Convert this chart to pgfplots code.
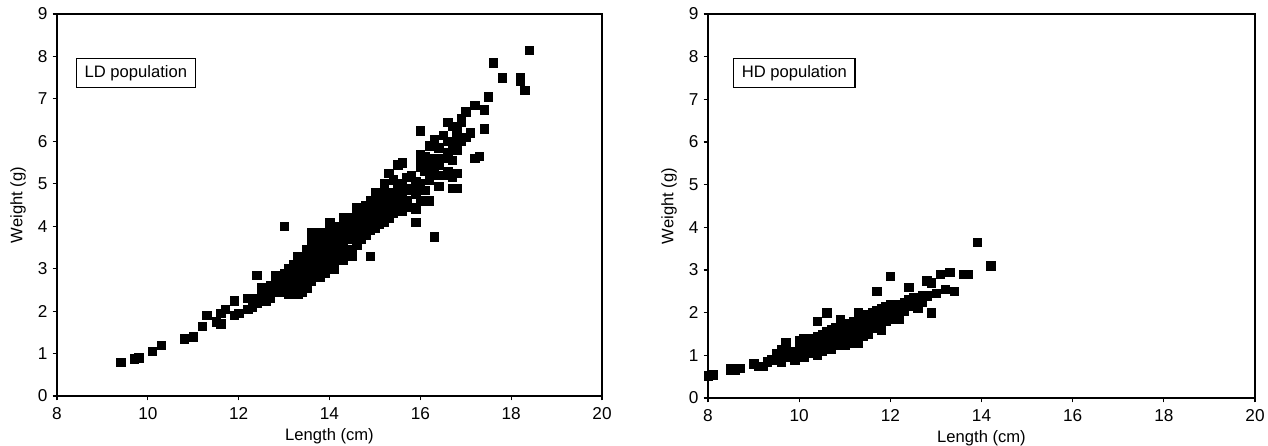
\documentclass[border=0pt]{standalone}
\usepackage{fontspec}
\setmainfont{Liberation Sans}
\usepackage{pgfplots}
\pgfplotsset{compat=1.18}

\pgfplotsset{
  panel/.style={
    scale only axis,
    xmin=8, xmax=20, ymin=0, ymax=9,
    xtick={8,10,...,20}, ytick={0,1,...,9},
    xtick pos=bottom, ytick pos=left,
    tick align=outside,
    major tick length=2.2pt,
    axis line style={line width=0.75pt},
    every tick/.style={black, line width=0.6pt},
    tick label style={font=\fontsize{8.6}{10}\selectfont},
    label style={font=\fontsize{8.3}{10}\selectfont},
    /pgf/number format/assume math mode=true,
    yticklabel style={xshift=1pt},
    xlabel={Length (cm)}, ylabel={Weight (g)},
    xlabel style={at={(axis description cs:0.5,0)}, anchor=north, yshift=-12.5pt},
    ylabel style={at={(axis description cs:0,0.5)}, anchor=south, yshift=12pt},
    clip=false,
  },
  pts/.style={only marks, mark=square*, mark size=2.1pt, black, mark options={line width=0.2pt}},
}
\tikzset{
  tag/.style={draw, line width=0.6pt, anchor=north west, font=\fontsize{8.3}{10}\selectfont,
              minimum height=14pt, inner xsep=4pt},
}

\begin{document}
\begin{tikzpicture}
\path[use as bounding box] (-28.5pt,-24.5pt) rectangle (605.5pt,198pt);

\begin{axis}[panel, width=272.5pt, height=191pt, at={(0,0)}]
\addplot[pts] coordinates {
(9.4,0.8) (9.7,0.88) (9.8,0.9) (10.1,1.05) (10.3,1.2) (10.8,1.35) (11.0,1.4)
(11.2,1.65) (11.3,1.9) (11.5,1.75) (11.6,1.7) (11.6,1.95) (11.7,2.05) (11.9,1.9)
(11.9,2.25) (12.0,1.95) (12.2,2.05) (12.2,2.3) (12.4,2.85) (12.4,2.3) (12.5,2.5)
(12.6,2.4) (12.7,2.3) (12.8,2.85) (13.0,4.0) (13.0,2.6) (13.1,2.4) (13.3,2.4)
(13.5,2.55) (13.6,3.85) (13.8,2.8) (14.9,3.3) (15.9,4.1) (16.3,3.75) (16.0,6.25)
(16.3,6.05) (16.6,6.45) (16.7,4.9) (16.8,4.9) (16.8,5.25) (17.2,5.6) (17.3,5.65)
(17.4,6.3) (17.4,6.75) (17.5,7.05) (17.6,7.85) (17.8,7.5) (18.2,7.5) (18.2,7.42)
(18.3,7.2) (18.4,8.15) (17.0,6.7) (17.2,6.85) (16.9,6.55) (17.0,6.1) (17.1,6.2)
(16.8,6.3) (16.9,6.0) (16.8,5.8)
(12.3,2.1) (12.3,2.3) (12.4,2.2) (12.5,2.35) (12.5,2.55) (12.6,2.25) (12.6,2.5)
(12.7,2.35) (12.7,2.6) (12.8,2.45) (12.8,2.65) (12.9,2.5) (12.9,2.75) (12.9,2.85)
(13.0,2.45) (13.0,2.7) (13.0,2.9) (13.1,2.55) (13.1,2.75) (13.1,3.0) (13.2,2.6)
(13.2,2.85) (13.2,3.1) (13.3,2.7) (13.3,2.95) (13.3,3.3) (13.4,2.6) (13.4,2.85)
(13.4,3.05) (13.4,3.25) (13.5,2.75) (13.5,3.0) (13.5,3.2) (13.5,3.45) (13.6,2.9)
(13.6,3.1) (13.6,3.3) (13.6,3.55) (13.7,2.95) (13.7,3.2) (13.7,3.4) (13.7,3.6)
(13.8,3.0) (13.8,3.25) (13.8,3.5) (13.8,3.75) (13.9,3.1) (13.9,3.35) (13.9,3.55)
(13.9,3.8) (14.0,3.05) (14.0,3.3) (14.0,3.5) (14.0,3.7) (14.0,3.9) (14.1,3.2)
(14.1,3.45) (14.1,3.65) (14.1,3.85) (14.2,3.3) (14.2,3.55) (14.2,3.75) (14.2,4.0)
(14.3,3.4) (14.3,3.6) (14.3,3.85) (14.3,4.05) (14.4,3.45) (14.4,3.7) (14.4,3.95)
(14.4,4.15) (14.5,3.45) (14.5,3.75) (14.5,4.0) (14.5,4.2) (14.6,3.55) (14.6,3.85)
(14.6,4.1) (14.6,4.3) (14.7,3.7) (14.7,3.95) (14.7,4.2) (14.7,4.4) (14.8,3.8)
(14.8,4.05) (14.8,4.3) (14.8,4.5) (14.9,3.9) (14.9,4.15) (14.9,4.4) (14.9,4.6)
(15.0,3.95) (15.0,4.2) (15.0,4.45) (15.0,4.65) (15.1,4.05) (15.1,4.3) (15.1,4.55)
(15.1,4.7) (15.2,4.1) (15.2,4.35) (15.2,4.6) (15.2,4.8) (15.3,4.2) (15.3,4.45)
(15.3,4.7) (15.3,5.25) (15.4,4.3) (15.4,4.55) (15.4,4.8) (15.4,5.1) (15.5,4.35)
(15.5,4.6) (15.5,4.9) (15.5,5.45) (15.6,4.5) (15.6,4.75) (15.6,5.0) (15.6,5.5)
(15.7,4.6) (15.7,4.85) (15.7,5.15) (15.8,4.45) (15.8,4.9) (15.8,5.2) (15.9,4.4)
(15.9,4.75) (15.9,5.05) (16.0,4.6) (16.0,5.0) (16.0,5.4) (16.0,5.7) (16.1,4.85)
(16.1,5.3) (16.1,5.65) (16.2,4.6) (16.2,5.1) (16.2,5.5) (16.3,5.3) (16.3,5.6)
(16.4,4.95) (16.4,5.45) (16.4,5.85) (16.5,5.2) (16.5,5.6) (16.6,5.3) (16.6,5.75)
(16.6,6.0) (16.7,5.55) (16.7,5.95) (16.7,6.35) (16.8,6.1) (16.9,6.45)
(13.2,2.45) (13.4,2.45) (13.6,2.7) (13.9,2.9) (14.1,3.0) (14.3,3.2) (14.5,3.3)
(14.2,3.4) (14.4,3.4) (13.6,3.75) (13.8,3.85) (14.0,4.1) (14.3,4.2) (14.6,4.45)
(15.0,4.8) (15.2,5.0) (15.6,4.35) (15.9,4.9) (16.2,5.9) (16.5,6.15) (16.1,4.6)
(16.4,5.2) (16.7,5.15) (16.0,5.55)
};
\node[tag] at (rel axis cs:0.035,0.885) {LD population};
\end{axis}

\begin{axis}[panel, width=273.5pt, height=192pt, at={(325.5pt,-1pt)}]
\addplot[pts] coordinates {
(8.0,0.52) (8.1,0.55) (8.5,0.65) (8.6,0.65) (8.7,0.7) (8.5,0.7) (9.0,0.8)
(9.1,0.75) (9.2,0.75) (9.3,0.85) (9.5,0.9) (9.6,1.1) (9.7,1.2) (9.8,1.0)
(9.9,0.95) (10.0,1.3) (10.1,1.1) (10.4,1.8) (10.6,2.0) (11.3,1.3) (11.2,1.3)
(11.7,2.5) (12.0,2.85) (12.4,2.6) (12.8,2.75) (12.9,2.7) (12.9,2.0) (13.1,2.9)
(13.3,2.95) (13.6,2.9) (13.7,2.9) (13.9,3.65) (14.2,3.1) (13.2,2.55) (13.4,2.5)
(13.0,2.45) (12.6,2.1) (10.3,1.05) (10.5,1.1) (10.8,1.25) (11.5,1.5)
(9.3,0.85) (9.4,0.9) (9.5,0.95) (9.5,1.05) (9.6,0.95) (9.6,1.15) (9.7,1.05)
(9.8,0.95) (9.8,1.1) (9.9,1.0) (10.0,1.05) (10.0,1.2) (10.0,1.35) (10.1,1.25)
(10.2,1.05) (10.2,1.2) (10.2,1.4) (10.3,1.1) (10.3,1.25) (10.3,1.4) (10.4,1.15)
(10.4,1.3) (10.4,1.45) (10.5,1.2) (10.5,1.35) (10.5,1.5) (10.6,1.25) (10.6,1.4)
(10.6,1.55) (10.7,1.3) (10.7,1.45) (10.7,1.6) (10.8,1.3) (10.8,1.5) (10.8,1.65)
(10.9,1.35) (10.9,1.5) (10.9,1.7) (11.0,1.4) (11.0,1.55) (11.0,1.7) (11.1,1.45)
(11.1,1.6) (11.1,1.75) (11.2,1.5) (11.2,1.65) (11.2,1.8) (11.3,1.55) (11.3,1.7)
(11.3,1.85) (11.4,1.6) (11.4,1.75) (11.4,1.9) (11.5,1.55) (11.5,1.75) (11.5,1.95)
(11.6,1.65) (11.6,1.8) (11.6,2.0) (11.7,1.7) (11.7,1.85) (11.7,2.05) (11.8,1.75)
(11.8,1.95) (11.8,2.1) (11.9,1.8) (11.9,2.0) (11.9,2.15) (12.0,1.85) (12.0,2.05)
(12.0,2.2) (12.1,1.95) (12.1,2.1) (12.2,2.0) (12.2,2.2) (12.3,2.05) (12.3,2.25)
(12.4,2.15) (12.4,2.3) (12.5,2.2) (12.5,2.35) (12.6,2.3) (12.7,2.25) (12.7,2.4)
(12.8,2.4) (9.6,0.85) (9.9,0.9) (10.1,0.95) (10.4,1.0) (10.7,1.15) (11.0,1.25)
(11.4,1.45) (11.8,1.6) (12.2,1.85) (9.7,1.3) (10.1,1.4) (10.9,1.85) (11.3,2.0)
};
\node[tag] at (rel axis cs:0.046,0.885) {HD population};
\end{axis}
\end{tikzpicture}
\end{document}
